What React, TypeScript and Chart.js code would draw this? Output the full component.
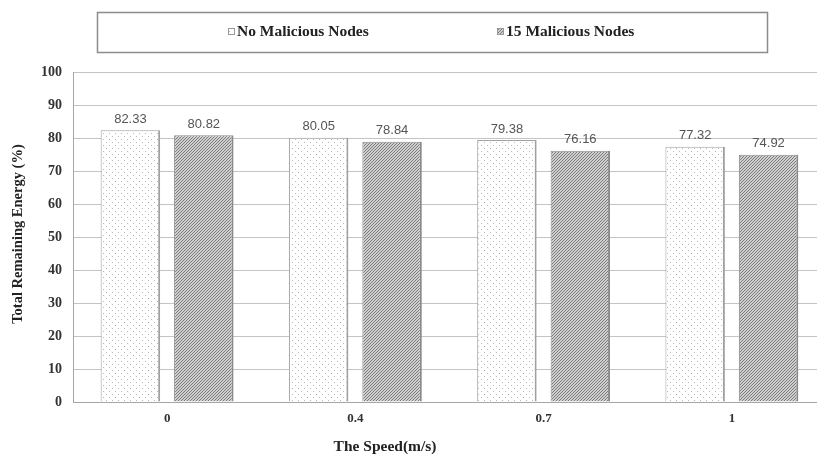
import React, { useEffect, useRef } from "react";
import { Chart, registerables } from "chart.js";

Chart.register(...registerables);

// Speeds on the x axis and remaining energy for each scenario
const speeds = ["0", "0.4", "0.7", "1"];
const noMalicious = [82.33, 80.05, 79.38, 77.32];
const fifteenMalicious = [80.82, 78.84, 76.16, 74.92];
const seriesNames = ["No Malicious Nodes", "15 Malicious Nodes"];
const yTicks = [0, 10, 20, 30, 40, 50, 60, 70, 80, 90, 100];
const xTitle = "The Speed(m/s)";
const yTitle = "Total Remaining Energy (%)";

const SERIF = '"Liberation Serif", "Times New Roman", serif';
const SANS = '"Liberation Sans", Arial, sans-serif';

function dotPattern(): CanvasPattern | string {
  const c = document.createElement("canvas");
  c.width = 6;
  c.height = 6;
  const g = c.getContext("2d");
  if (!g) return "#f4f4f4";
  g.fillStyle = "#ffffff";
  g.fillRect(0, 0, 6, 6);
  g.fillStyle = "#b8b8b8";
  g.fillRect(1, 1, 1, 1);
  g.fillRect(4, 4, 1, 1);
  return g.createPattern(c, "repeat") || "#f4f4f4";
}

function hatchPattern(): CanvasPattern | string {
  const c = document.createElement("canvas");
  c.width = 3;
  c.height = 3;
  const g = c.getContext("2d");
  if (!g) return "#a0a0a0";
  g.fillStyle = "#cfcfcf";
  g.fillRect(0, 0, 3, 3);
  g.fillStyle = "#7c7c7c";
  for (let i = 0; i < 3; i++) {
    g.fillRect(i, 2 - i, 1, 1);
  }
  return g.createPattern(c, "repeat") || "#a0a0a0";
}

export default function App() {
  const ref = useRef<HTMLCanvasElement | null>(null);

  useEffect(() => {
    if (!ref.current) return;
    const dots = dotPattern();
    const hatch = hatchPattern();

    const overlay = {
      id: "overlay",
      afterDatasetsDraw(chart: any) {
        const ctx = chart.ctx;
        ctx.save();
        // value labels above each bar
        ctx.font = `13px ${SANS}`;
        ctx.fillStyle = "#555555";
        ctx.textAlign = "center";
        ctx.textBaseline = "middle";
        chart.data.datasets.forEach((ds: any, di: number) => {
          const meta = chart.getDatasetMeta(di);
          meta.data.forEach((bar: any, i: number) => {
            ctx.fillText(ds.data[i].toFixed(2), bar.x, bar.y - 11);
          });
        });
        ctx.restore();
      },
      afterDraw(chart: any) {
        const ctx = chart.ctx;
        ctx.save();
        // legend frame
        ctx.strokeStyle = "#8c8c8c";
        ctx.lineWidth = 1.5;
        ctx.strokeRect(97.5, 12.5, 670, 40);
        ctx.font = `bold 15.5px ${SERIF}`;
        ctx.textBaseline = "middle";
        ctx.textAlign = "left";
        const items = [
          { x: 228, fill: dots },
          { x: 497, fill: hatch },
        ];
        items.forEach((it, i) => {
          ctx.fillStyle = it.fill as any;
          ctx.fillRect(it.x, 28, 7, 7);
          ctx.strokeStyle = "#999999";
          ctx.lineWidth = 1;
          ctx.strokeRect(it.x + 0.5, 28.5, 6, 6);
          ctx.fillStyle = "#222222";
          ctx.fillText(chart.data.datasets[i].label, it.x + 9, 32);
        });
        // axis titles
        ctx.fillStyle = "#222222";
        ctx.font = `bold 15.5px ${SERIF}`;
        ctx.textAlign = "center";
        ctx.fillText(xTitle, 385, 447);
        ctx.font = `bold 14.5px ${SERIF}`;
        ctx.translate(18, 234);
        ctx.rotate(-Math.PI / 2);
        ctx.fillText(yTitle, 0, 0);
        ctx.restore();
      },
    };

    const chart = new Chart(ref.current, {
      type: "bar",
      data: {
        labels: speeds,
        datasets: [
          {
            label: seriesNames[0],
            data: noMalicious,
            backgroundColor: dots as any,
            borderColor: "#a0a0a0",
            borderWidth: { left: 1, top: 1, right: 2, bottom: 0 } as any,
            borderSkipped: false,
            categoryPercentage: 0.78,
            barPercentage: 0.81,
          },
          {
            label: seriesNames[1],
            data: fifteenMalicious,
            backgroundColor: hatch as any,
            borderColor: "#8a8a8a",
            borderWidth: { left: 1, top: 1, right: 2, bottom: 0 } as any,
            borderSkipped: false,
            categoryPercentage: 0.78,
            barPercentage: 0.81,
          },
        ],
      },
      options: {
        animation: false,
        responsive: false,
        layout: { padding: { top: 72, left: 0, right: 0, bottom: 0 } },
        plugins: {
          legend: { display: false },
          tooltip: { enabled: false },
        },
        scales: {
          x: {
            afterFit: (s: any) => {
              s.height = 55;
            },
            grid: { display: false, drawTicks: false },
            border: { display: true, color: "#a6a6a6", width: 1 },
            ticks: {
              padding: 9,
              color: "#333333",
              font: { family: SERIF, size: 13, weight: "bold" },
            },
          },
          y: {
            min: 0,
            max: 100,
            afterFit: (s: any) => {
              s.width = 73;
            },
            afterBuildTicks: (s: any) => {
              s.ticks = yTicks.map((v) => ({ value: v }));
            },
            grid: { color: "#c4c4c4", drawTicks: false, lineWidth: 1 },
            border: { display: true, color: "#a6a6a6", width: 1 },
            ticks: {
              padding: 11,
              color: "#333333",
              font: { family: SERIF, size: 14, weight: "bold" },
            },
          },
        },
      },
      plugins: [overlay],
    });
    return () => chart.destroy();
  }, []);

  return (
    <div
      style={{
        position: "fixed",
        left: 0,
        top: 0,
        width: 817,
        height: 457,
        overflow: "hidden",
        background: "#ffffff",
      }}
    >
      <canvas ref={ref} width={826} height={457} style={{ display: "block" }} />
    </div>
  );
}
